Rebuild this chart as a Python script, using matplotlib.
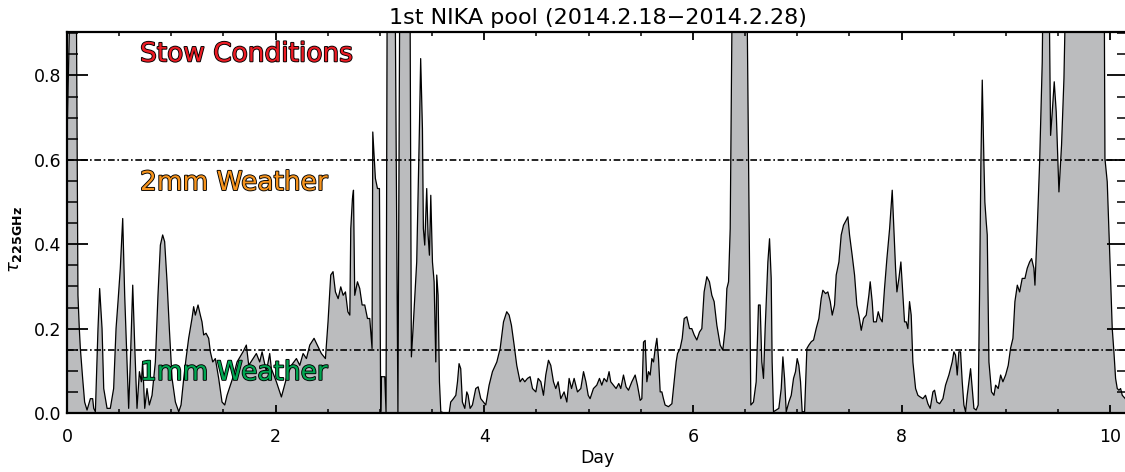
import numpy as np
import matplotlib
matplotlib.use("Agg")
import matplotlib.pyplot as plt
import matplotlib.patheffects as pe
from matplotlib.ticker import MultipleLocator, FormatStrFormatter

# ---- data: day since start, tau(225 GHz); values > 0.9 are off-scale ----
day_a = [0.000, 0.048, 0.085, 0.105, 0.118, 0.128, 0.150, 0.169, 0.192, 0.224,
         0.246, 0.256, 0.272, 0.297, 0.313, 0.336, 0.352, 0.384, 0.415, 0.447,
         0.470, 0.489, 0.511, 0.534, 0.553, 0.575, 0.591, 0.607, 0.630, 0.649,
         0.671, 0.694, 0.713, 0.725, 0.745, 0.767, 0.789, 0.815, 0.847, 0.872,
         0.895, 0.917, 0.936, 0.959, 0.981, 1.007, 1.039, 1.071, 1.093, 1.119,
         1.141, 1.166, 1.198, 1.214, 1.230, 1.256, 1.278, 1.294, 1.310, 1.333,
         1.358, 1.374, 1.397, 1.422, 1.454, 1.486, 1.512, 1.534, 1.566, 1.598,
         1.630]
tau_a = [0.650, 1.200, 1.200, 0.279, 0.200, 0.153, 0.082, 0.026, 0.007, 0.034,
         0.034, 0.011, 0.003, 0.200, 0.295, 0.200, 0.058, 0.011, 0.011, 0.058,
         0.200, 0.264, 0.343, 0.461, 0.279, 0.121, 0.011, 0.121, 0.303, 0.161,
         0.011, 0.098, 0.074, 0.121, 0.011, 0.058, 0.019, 0.042, 0.121, 0.279,
         0.398, 0.422, 0.406, 0.311, 0.200, 0.082, 0.026, 0.003, 0.019, 0.082,
         0.129, 0.177, 0.224, 0.252, 0.232, 0.256, 0.232, 0.216, 0.185, 0.189,
         0.177, 0.145, 0.121, 0.129, 0.082, 0.026, 0.019, 0.042, 0.066, 0.090,
         0.121]

day_b = [1.687, 1.719, 1.742, 1.783, 1.815, 1.847, 1.870, 1.911, 1.943, 1.959,
         2.007, 2.055, 2.103, 2.151, 2.199, 2.231, 2.263, 2.295, 2.327, 2.368,
         2.407, 2.438, 2.477, 2.502, 2.528, 2.550, 2.573, 2.599, 2.624, 2.647,
         2.669, 2.692, 2.711, 2.720, 2.736, 2.746, 2.758, 2.784, 2.806, 2.829,
         2.854, 2.880, 2.902, 2.924, 2.931, 2.956, 2.976, 2.995, 3.007, 3.014,
         3.046, 3.058, 3.071, 3.140, 3.172, 3.193, 3.285, 3.301, 3.317]
tau_b = [0.145, 0.161, 0.113, 0.129, 0.141, 0.121, 0.145, 0.098, 0.141, 0.105,
         0.074, 0.038, 0.082, 0.113, 0.129, 0.113, 0.141, 0.129, 0.161, 0.177,
         0.157, 0.141, 0.129, 0.216, 0.327, 0.335, 0.287, 0.271, 0.299, 0.279,
         0.287, 0.240, 0.232, 0.437, 0.508, 0.528, 0.279, 0.311, 0.295, 0.256,
         0.256, 0.224, 0.224, 0.153, 0.666, 0.556, 0.532, 0.532, 0.003, 0.086,
         0.086, 0.003, 1.200, 1.200, 0.003, 1.200, 1.200, 0.133, 0.200]

day_c = [3.352, 3.365, 3.378, 3.390, 3.407, 3.416, 3.429, 3.448, 3.461, 3.474,
         3.487, 3.503, 3.519, 3.535, 3.544, 3.557, 3.570, 3.583, 3.615, 3.663,
         3.678, 3.704, 3.727, 3.743, 3.758, 3.774, 3.790, 3.813, 3.832, 3.845,
         3.864, 3.886, 3.918, 3.941, 3.966, 3.992, 4.014, 4.046, 4.078, 4.120,
         4.152, 4.184, 4.215, 4.238, 4.260, 4.286, 4.311, 4.343, 4.366, 4.388,
         4.414, 4.439, 4.462, 4.494, 4.516, 4.542, 4.567, 4.589, 4.615, 4.637,
         4.663, 4.685, 4.708, 4.733, 4.765, 4.791, 4.813, 4.836, 4.861, 4.893,
         4.925, 4.951, 4.974, 4.996]
tau_c = [0.358, 0.516, 0.674, 0.840, 0.674, 0.437, 0.398, 0.532, 0.422, 0.374,
         0.516, 0.358, 0.311, 0.121, 0.327, 0.279, 0.074, 0.003, 0.000, 0.000,
         0.026, 0.034, 0.042, 0.074, 0.117, 0.105, 0.026, 0.011, 0.050, 0.042,
         0.011, 0.019, 0.058, 0.062, 0.034, 0.026, 0.019, 0.066, 0.098, 0.121,
         0.153, 0.216, 0.240, 0.232, 0.208, 0.161, 0.113, 0.074, 0.082, 0.074,
         0.082, 0.086, 0.058, 0.050, 0.082, 0.074, 0.042, 0.090, 0.125, 0.113,
         0.074, 0.058, 0.074, 0.034, 0.050, 0.026, 0.082, 0.058, 0.082, 0.050,
         0.058, 0.098, 0.074, 0.042]

day_d = [5.014, 5.046, 5.078, 5.104, 5.126, 5.148, 5.174, 5.196, 5.212, 5.238,
         5.263, 5.289, 5.308, 5.334, 5.359, 5.382, 5.414, 5.446, 5.468, 5.494,
         5.510, 5.526, 5.542, 5.558, 5.574, 5.590, 5.606, 5.622, 5.638, 5.654,
         5.670, 5.686, 5.702, 5.717, 5.733, 5.765, 5.798, 5.820, 5.839, 5.852,
         5.877, 5.897, 5.916, 5.941, 5.967, 5.989, 6.012, 6.037, 6.063, 6.085,
         6.107, 6.133, 6.158, 6.181, 6.203, 6.229, 6.261, 6.286, 6.309, 6.325,
         6.341, 6.357, 6.383, 6.510, 6.555, 6.580, 6.606, 6.628, 6.644, 6.660,
         6.676, 6.692]
tau_d = [0.034, 0.058, 0.066, 0.082, 0.066, 0.082, 0.074, 0.098, 0.074, 0.066,
         0.058, 0.070, 0.058, 0.090, 0.062, 0.054, 0.074, 0.090, 0.066, 0.030,
         0.034, 0.168, 0.172, 0.074, 0.098, 0.090, 0.129, 0.121, 0.153, 0.177,
         0.129, 0.050, 0.050, 0.034, 0.019, 0.015, 0.022, 0.074, 0.121, 0.141,
         0.153, 0.177, 0.224, 0.228, 0.200, 0.200, 0.185, 0.173, 0.192, 0.200,
         0.287, 0.323, 0.311, 0.279, 0.264, 0.208, 0.161, 0.149, 0.200, 0.295,
         0.311, 0.437, 1.200, 1.200, 0.019, 0.026, 0.074, 0.256, 0.256, 0.121,
         0.082, 0.200]

day_e = [6.718, 6.734, 6.750, 6.759, 6.772, 6.798, 6.823, 6.846, 6.862, 6.878,
         6.894, 6.919, 6.942, 6.964, 6.983, 6.999, 7.015, 7.031, 7.047, 7.070,
         7.092, 7.111, 7.134, 7.156, 7.181, 7.207, 7.229, 7.245, 7.271, 7.293,
         7.316, 7.335, 7.357, 7.373, 7.399, 7.421, 7.443, 7.469, 7.485, 7.501,
         7.526, 7.549, 7.571, 7.590, 7.613, 7.635, 7.661, 7.686, 7.699, 7.718,
         7.731, 7.757, 7.776, 7.795, 7.814, 7.836, 7.859, 7.885, 7.910, 7.926,
         7.942, 7.955, 7.974, 7.993, 8.012, 8.028, 8.044, 8.060, 8.076, 8.092,
         8.108, 8.134, 8.156, 8.178, 8.204, 8.229, 8.252, 8.274, 8.300, 8.316,
         8.338, 8.364, 8.396]
tau_e = [0.358, 0.413, 0.319, 0.121, 0.003, 0.007, 0.011, 0.058, 0.133, 0.082,
         0.003, 0.026, 0.042, 0.082, 0.098, 0.129, 0.113, 0.074, 0.003, 0.003,
         0.153, 0.161, 0.169, 0.173, 0.200, 0.224, 0.271, 0.291, 0.283, 0.287,
         0.264, 0.232, 0.256, 0.327, 0.358, 0.422, 0.445, 0.457, 0.465, 0.422,
         0.374, 0.327, 0.256, 0.232, 0.196, 0.224, 0.232, 0.279, 0.311, 0.264,
         0.216, 0.216, 0.240, 0.224, 0.216, 0.295, 0.366, 0.437, 0.528, 0.437,
         0.343, 0.287, 0.319, 0.358, 0.279, 0.216, 0.216, 0.200, 0.264, 0.232,
         0.121, 0.058, 0.042, 0.038, 0.034, 0.042, 0.022, 0.011, 0.050, 0.054,
         0.026, 0.022, 0.034]

day_f = [8.421, 8.453, 8.485, 8.501, 8.517, 8.533, 8.549, 8.565, 8.581, 8.597,
         8.613, 8.629, 8.645, 8.661, 8.677, 8.693, 8.715, 8.734, 8.747, 8.760,
         8.773, 8.789, 8.798, 8.811, 8.821, 8.837, 8.862, 8.885, 8.901, 8.926,
         8.949, 8.971, 8.997, 9.022, 9.044, 9.067, 9.086, 9.109, 9.131, 9.156,
         9.182, 9.204, 9.227, 9.246, 9.268, 9.278, 9.300, 9.323, 9.348, 9.364,
         9.406, 9.428, 9.444, 9.463, 9.482, 9.508, 9.533, 9.556, 9.588, 9.939,
         9.949, 9.971, 9.987, 10.003, 10.019, 10.035, 10.051, 10.067, 10.083,
         10.099, 10.115, 10.144, 10.170]
tau_f = [0.066, 0.090, 0.121, 0.145, 0.137, 0.090, 0.145, 0.145, 0.074, 0.019,
         0.003, 0.042, 0.074, 0.105, 0.058, 0.011, 0.007, 0.019, 0.279, 0.595,
         0.789, 0.595, 0.500, 0.453, 0.422, 0.121, 0.050, 0.042, 0.066, 0.058,
         0.090, 0.074, 0.090, 0.113, 0.153, 0.177, 0.264, 0.303, 0.287, 0.319,
         0.319, 0.343, 0.358, 0.366, 0.343, 0.303, 0.437, 0.595, 0.832, 1.200,
         1.200, 0.658, 0.714, 0.785, 0.714, 0.524, 0.635, 0.793, 1.200, 1.200,
         0.603, 0.548, 0.437, 0.319, 0.200, 0.145, 0.082, 0.058, 0.054,
         0.058, 0.042, 0.034, 0.020]

limits = [0.6, 0.15]
x_ticks = [0, 2, 4, 6, 8, 10]
y_ticks = [0.0, 0.2, 0.4, 0.6, 0.8]
title = "1st NIKA pool (2014.2.18\u22122014.2.28)"
region_labels = ["Stow Conditions", "2mm Weather", "1mm Weather"]
region_colors = ["#ec1c24", "#f7941d", "#00a651"]

day = np.array(day_a + day_b + day_c + day_d + day_e + day_f)
tau = np.array(tau_a + tau_b + tau_c + tau_d + tau_e + tau_f)

# ---- figure ----
W, H = 1125, 472
fig = plt.figure(figsize=(W / 100, H / 100), dpi=100)
ax = fig.add_axes([67 / W, 59 / H, 1061 / W, 381 / H])

ax.fill_between(day, tau, 0, color="#bbbcbe", lw=0)
ax.plot(day, tau, color="black", lw=0.9)

for lv in limits:
    ax.axhline(lv, color="black", lw=1.2, linestyle=(0, (4, 1.6, 1, 1.6)))

ax.set_xlim(0, 10.17)
ax.set_ylim(0, 0.903)
ax.xaxis.set_minor_locator(MultipleLocator(0.5))
ax.yaxis.set_minor_locator(MultipleLocator(0.05))
ax.set_xticks(x_ticks)
ax.set_yticks(y_ticks)
ax.yaxis.set_major_formatter(FormatStrFormatter("%.1f"))

for s in ax.spines.values():
    s.set_linewidth(1.6)

ax.tick_params(axis="x", which="major", direction="in", length=5.5, width=1.3,
               top=True, bottom=True, labelsize=12.5, pad=11)
ax.tick_params(axis="x", which="minor", direction="in", length=3, width=1.1,
               top=True, bottom=True)
ax.tick_params(axis="y", which="major", direction="in", length=15, width=1.3,
               left=True, right=True, labelsize=12.5, pad=4)
ax.tick_params(axis="y", which="minor", direction="in", length=8, width=1.1,
               left=True, right=True)

ax.set_xlabel("Day", fontsize=12.5, labelpad=2)
ax.set_title(title, fontsize=16, pad=6)
fig.text(15 / W, 1 - 240 / H, r"$\tau_{\mathbf{225GHz}}$", rotation=90,
         fontsize=13, ha="center", va="center")

outline = [pe.withStroke(linewidth=1.3, foreground="black")]
label_y = [0.85, 0.545, 0.095]
for txt, col, yv in zip(region_labels, region_colors, label_y):
    ax.text(0.70, yv, txt, color=col, fontsize=19,
            ha="left", va="center", path_effects=outline)

fig.savefig("out.png", dpi=100)
